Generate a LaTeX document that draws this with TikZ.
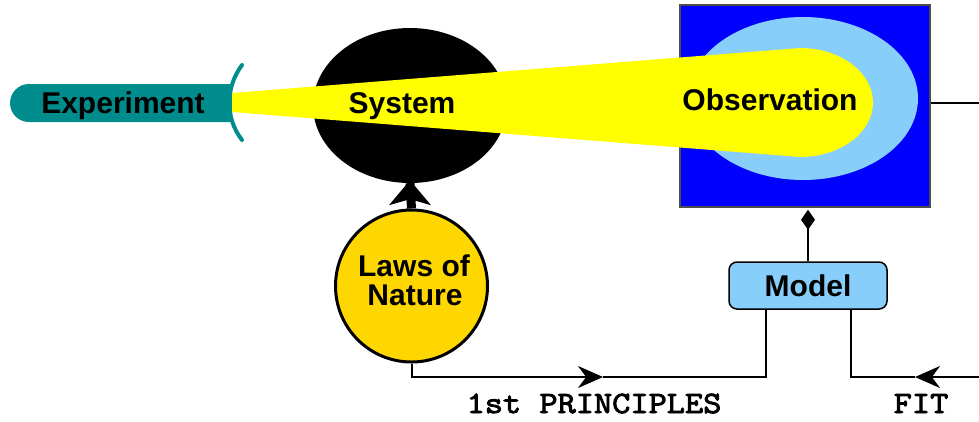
\documentclass[tikz,border=0pt]{standalone}
\usepackage{fontspec}
\setmainfont{Liberation Sans}
\newfontfamily\courb{Latin Modern Mono}[FakeBold=3,FakeStretch=1.14]
\usetikzlibrary{arrows.meta,shapes.geometric,shapes.misc,calc}
\definecolor{tealc}{RGB}{0,140,140}
\definecolor{obsblue}{RGB}{0,0,255}
\definecolor{lightblue}{RGB}{135,206,250}
\definecolor{goldc}{RGB}{255,215,0}
\definecolor{beam}{RGB}{255,255,0}
\begin{document}
\begin{tikzpicture}[x=1pt,y=1pt,
  lbl/.style={font=\fontsize{30}{36}\selectfont\bfseries, inner sep=0pt},
  mono/.style={font=\fontsize{31}{36}\selectfont\courb, inner sep=0pt},
  wire/.style={line width=2pt, black},
  head/.style={-{Stealth[length=25pt,width=22pt]}}]
\useasboundingbox (0,0) rectangle (979,-421);

% Observation box and halo
\node[rectangle, fill=obsblue, draw=black!70, line width=1.5pt, minimum width=250pt, minimum height=202pt, inner sep=0pt] (obs) at (805,-106) {};
\node[ellipse, fill=lightblue, minimum width=230pt, minimum height=163pt, inner sep=0pt] (halo) at (803,-98.5) {};

% Experiment bar
\node[rounded rectangle, rounded rectangle right arc=none, fill=tealc, minimum width=222pt, minimum height=38pt, inner sep=0pt] (exp) at (121,-103) {};

% System
\node[ellipse, fill=black, minimum width=194pt, minimum height=155pt, inner sep=0pt] (sys) at (410,-105.5) {};

% Beam
\fill[beam] (232,-93) -- (800,-48) arc[start angle=90,end angle=-90,x radius=73pt,y radius=54.5pt] -- (232,-112) -- cycle;

% Teal aperture
\draw[tealc, line width=4pt, line cap=round] (242,-65) .. controls (225,-88) and (225,-118) .. (242,-140);

% Laws of Nature
\node[circle, fill=goldc, draw=black, line width=3pt, minimum size=152pt, inner sep=0pt] (laws) at (411.5,-286) {};
\draw[line width=9pt] (laws.north) -- (sys.south);
\fill[black] ($(sys.south)+(0,3)$) -- ++(21,-25) -- ++(-21,6) -- ++(-21,-6) -- cycle;

% Model
\node[rectangle, rounded corners=8pt, fill=lightblue, draw=black, line width=1.5pt, minimum width=158pt, minimum height=47pt, lbl] (model) at (808,-285.5) {Model};
\draw[wire, -{Diamond[length=20pt,width=14pt]}, shorten >=2pt] (model.north) -- (obs.south -| model.north);

% Bottom connectors
\coordinate (a1) at (603,-377);
\coordinate (mL) at ($(model.south)+(-42,0)$);
\draw[wire, head] (laws.south) |- (a1);
\draw[wire] (a1) -| (mL);

\coordinate (fitIn) at (979,-377);
\coordinate (a2) at (915,-377);
\coordinate (mR) at ($(model.south)+(43,0)$);
\draw[wire, head] (fitIn) -- (a2);
\draw[wire] (a2) -| (mR);

% Observation output
\coordinate (obsOut) at (979,-102.5);
\draw[wire] (obs.east |- obsOut) -- (obsOut);

% Labels
\node[lbl, anchor=base] (expT) at (123,-113) {Experiment};
\node[lbl, anchor=base] (sysT) at (402,-113) {System};
\node[lbl, anchor=base] (obsT) at (770,-110) {Observation};
\node[lbl, anchor=base] (lawsA) at (414,-276) {Laws of};
\node[lbl, anchor=base] (lawsB) at (415,-305) {Nature};
\node[mono, anchor=base] (fp) at (594,-413) {1st PRINCIPLES};
\node[mono, anchor=base] (fit) at (921,-413) {FIT};
\end{tikzpicture}
\end{document}
